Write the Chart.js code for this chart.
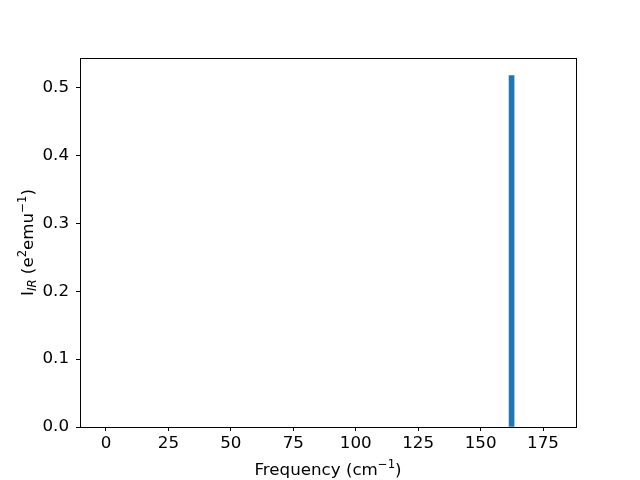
<!DOCTYPE html>
<html>
<head>
<meta charset="utf-8">
<script src="https://cdn.jsdelivr.net/npm/chart.js@4"></script>
<style>
html,body{margin:0;padding:0;background:#fff;}
#wrap{width:640px;height:480px;}
</style>
</head>
<body>
<div id="wrap"><canvas id="c" width="640" height="480"></canvas></div>
<script>
const frequencies = [162.4];
const intensities = [0.5176];
const xTicks = [0, 25, 50, 75, 100, 125, 150, 175];
const yTicks = [0.0, 0.1, 0.2, 0.3, 0.4, 0.5];
const xTitle = [["Frequency (cm", "n"], ["−1", "sup"], [")", "n"]];
const yTitle = [["I", "n"], ["IR", "sub"], [" (e", "n"], ["2", "sup"], ["emu", "n"], ["−1", "sup"], [")", "n"]];

const FONT = "DejaVu Sans";
const FS = 16.7;

function drawRich(ctx, parts, cx, cy, rot) {
  ctx.save();
  ctx.translate(cx, cy);
  ctx.rotate(rot);
  ctx.fillStyle = "#000";
  ctx.textBaseline = "alphabetic";
  ctx.textAlign = "left";
  const fontFor = k => k === "n" ? `${FS}px "${FONT}"` : (k === "sub" ? `italic 11.7px "${FONT}"` : `11.7px "${FONT}"`);
  let total = 0;
  for (const [t, k] of parts) { ctx.font = fontFor(k); total += ctx.measureText(t).width; }
  let x = -total / 2;
  for (const [t, k] of parts) {
    ctx.font = fontFor(k);
    const dy = k === "sub" ? 3.5 : (k === "sup" ? -7 : 0);
    ctx.fillText(t, x, 6 + dy);
    x += ctx.measureText(t).width;
  }
  ctx.restore();
}

const framePlugin = {
  id: "frame",
  afterDraw(chart) {
    const {ctx, chartArea: a} = chart;
    ctx.save();
    ctx.strokeStyle = "#000";
    ctx.lineWidth = 1;
    ctx.strokeRect(Math.round(a.left) + 0.5, Math.round(a.top) + 0.5, Math.round(a.right - a.left), Math.round(a.bottom - a.top));
    ctx.restore();
    drawRich(ctx, xTitle, (a.left + a.right) / 2, 469, 0);
    drawRich(ctx, yTitle, 26.5, (a.top + a.bottom) / 2, -Math.PI / 2);
  }
};

new Chart(document.getElementById("c"), {
  type: "bar",
  data: {
    datasets: [{
      data: frequencies.map((f, i) => ({x: f, y: intensities[i]})),
      backgroundColor: "#1f77b4",
      borderWidth: 0,
      barThickness: 5
    }]
  },
  options: {
    responsive: false,
    animation: false,
    events: [],
    layout: {padding: {top: 58, right: 64, left: 0, bottom: 0}},
    plugins: {legend: {display: false}, tooltip: {enabled: false}},
    scales: {
      x: {
        type: "linear",
        offset: false,
        min: -10.4,
        max: 188.2,
        afterFit(s) { s.height = 53; },
        afterBuildTicks(s) { s.ticks = xTicks.map(v => ({value: v})); },
        grid: {display: true, offset: false, drawOnChartArea: false, drawTicks: true, tickLength: 4, tickColor: "#000", color: "#000"},
        border: {display: true, color: "#000"},
        ticks: {color: "#000", font: {family: FONT, size: FS}, padding: 3, maxRotation: 0, callback: v => String(v)}
      },
      y: {
        type: "linear",
        min: 0,
        max: 0.5435,
        afterFit(s) { s.width = 80; },
        afterBuildTicks(s) { s.ticks = yTicks.map(v => ({value: v})); },
        grid: {display: true, drawOnChartArea: false, drawTicks: true, tickLength: 4, tickColor: "#000", color: "#000"},
        border: {display: true, color: "#000"},
        ticks: {color: "#000", font: {family: FONT, size: FS}, padding: 7, callback: v => Number(v).toFixed(1)}
      }
    }
  },
  plugins: [framePlugin]
});
</script>
</body>
</html>
